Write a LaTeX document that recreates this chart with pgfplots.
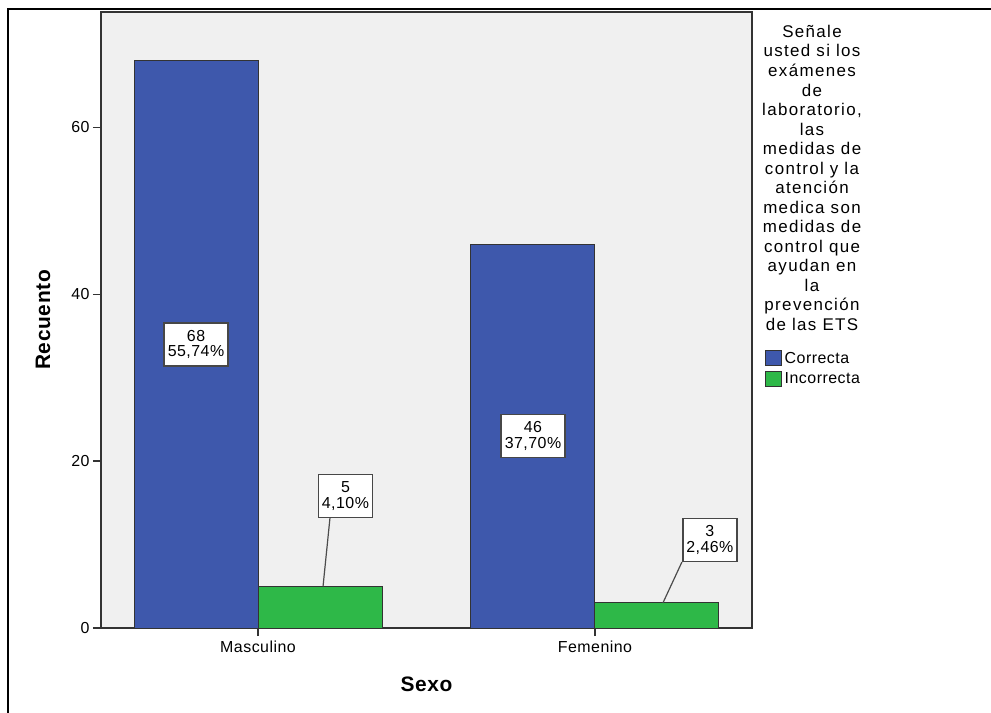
\documentclass[border=0pt]{standalone}
\usepackage{pgfplots}
\pgfplotsset{compat=1.18}
\usepackage{fontspec}
\setmainfont{Liberation Sans}[LetterSpace=3]
\newfontfamily\titlefont{Liberation Sans}[LetterSpace=8]
\definecolor{spssblue}{RGB}{62,88,172}
\definecolor{spssgreen}{RGB}{46,184,72}
\definecolor{spssbg}{RGB}{240,240,240}
\tikzset{box/.style={draw=black!72, line width=1.6bp, fill=white, align=center,
    font=\fontsize{16}{15.5}\selectfont, inner xsep=3.5bp, inner ysep=2bp, minimum height=43bp}}
\pgfplotsset{mylegend/.style={legend image code/.code={\draw[#1,line width=1bp] (0bp,-7.5bp) rectangle (16bp,7.5bp);}}}
\begin{document}
\begin{tikzpicture}
\path[use as bounding box] (-101bp,-85bp) rectangle (890bp,628bp);
\draw[line width=2bp] (-93bp,-90bp) -- (-93bp,619bp) -- (895bp,619bp);
\begin{axis}[
  scale only axis, width=651bp, height=616bp,
  xmin=-0.466, xmax=1.466, ymin=0, ymax=73.8,
  axis background/.style={fill=spssbg},
  axis line style={black!80, line width=1.2bp},
  xtick={0,1}, xticklabels={Masculino,Femenino},
  ytick={0,20,40,60},
  tick align=outside, xtick pos=bottom, ytick pos=left,
  major tick length=8bp,
  tick style={black!80, line width=1.2bp},
  tick label style={font=\fontsize{16}{16}\selectfont},
  xticklabel style={yshift=-1.5bp},
  /pgf/number format/assume math mode=true,
  xlabel={Sexo}, ylabel={Recuento},
  label style={font=\fontsize{21}{21}\selectfont\bfseries},
  xlabel style={at={(axis description cs:0.5,-0.0917)}, anchor=center},
  ylabel style={at={(axis description cs:-0.0891,0.5)}, anchor=center},
  legend cell align=left,
  legend style={at={(1.0200,0.451)}, anchor=north west, draw=none, fill=none,
    font=\fontsize{16}{16}\selectfont, row sep=4.5bp, inner sep=0pt,
    nodes={inner ysep=1.5bp, inner xsep=2.5bp}},
]
\addplot[ybar, bar width=0.368, bar shift=0pt, fill=spssblue, draw=black!80, line width=1bp, mylegend]
  coordinates {(-0.184,68) (0.816,46)};
\addplot[ybar, bar width=0.368, bar shift=0pt, fill=spssgreen, draw=black!80, line width=1bp, mylegend]
  coordinates {(0.184,5) (1.184,3)};
\legend{Correcta, Incorrecta}
\draw[black!70, line width=1.2bp] (axis cs:0.193,5) -- (axis cs:0.2135,13.18);
\draw[black!70, line width=1.2bp] (axis cs:1.2016,3) -- (axis cs:1.258,7.9);
\node[box] at (axis cs:-0.184,34) {68\\55,74\%};
\node[box] at (axis cs:0.816,23) {46\\37,70\%};
\node[box] at (axis cs:0.2595,15.8) {5\\4,10\%};
\node[box] at (axis cs:1.341,10.54) {3\\2,46\%};
\end{axis}
\node[anchor=north, align=center, inner sep=0pt, font=\titlefont\fontsize{17}{19.6}\selectfont]
  at (711bp,603bp) {Señale\\usted si los\\exámenes\\de\\laboratorio,\\las\\medidas de\\control y la\\atención\\medica son\\medidas de\\control que\\ayudan en\\la\\prevención\\de las ETS};
\end{tikzpicture}
\end{document}
